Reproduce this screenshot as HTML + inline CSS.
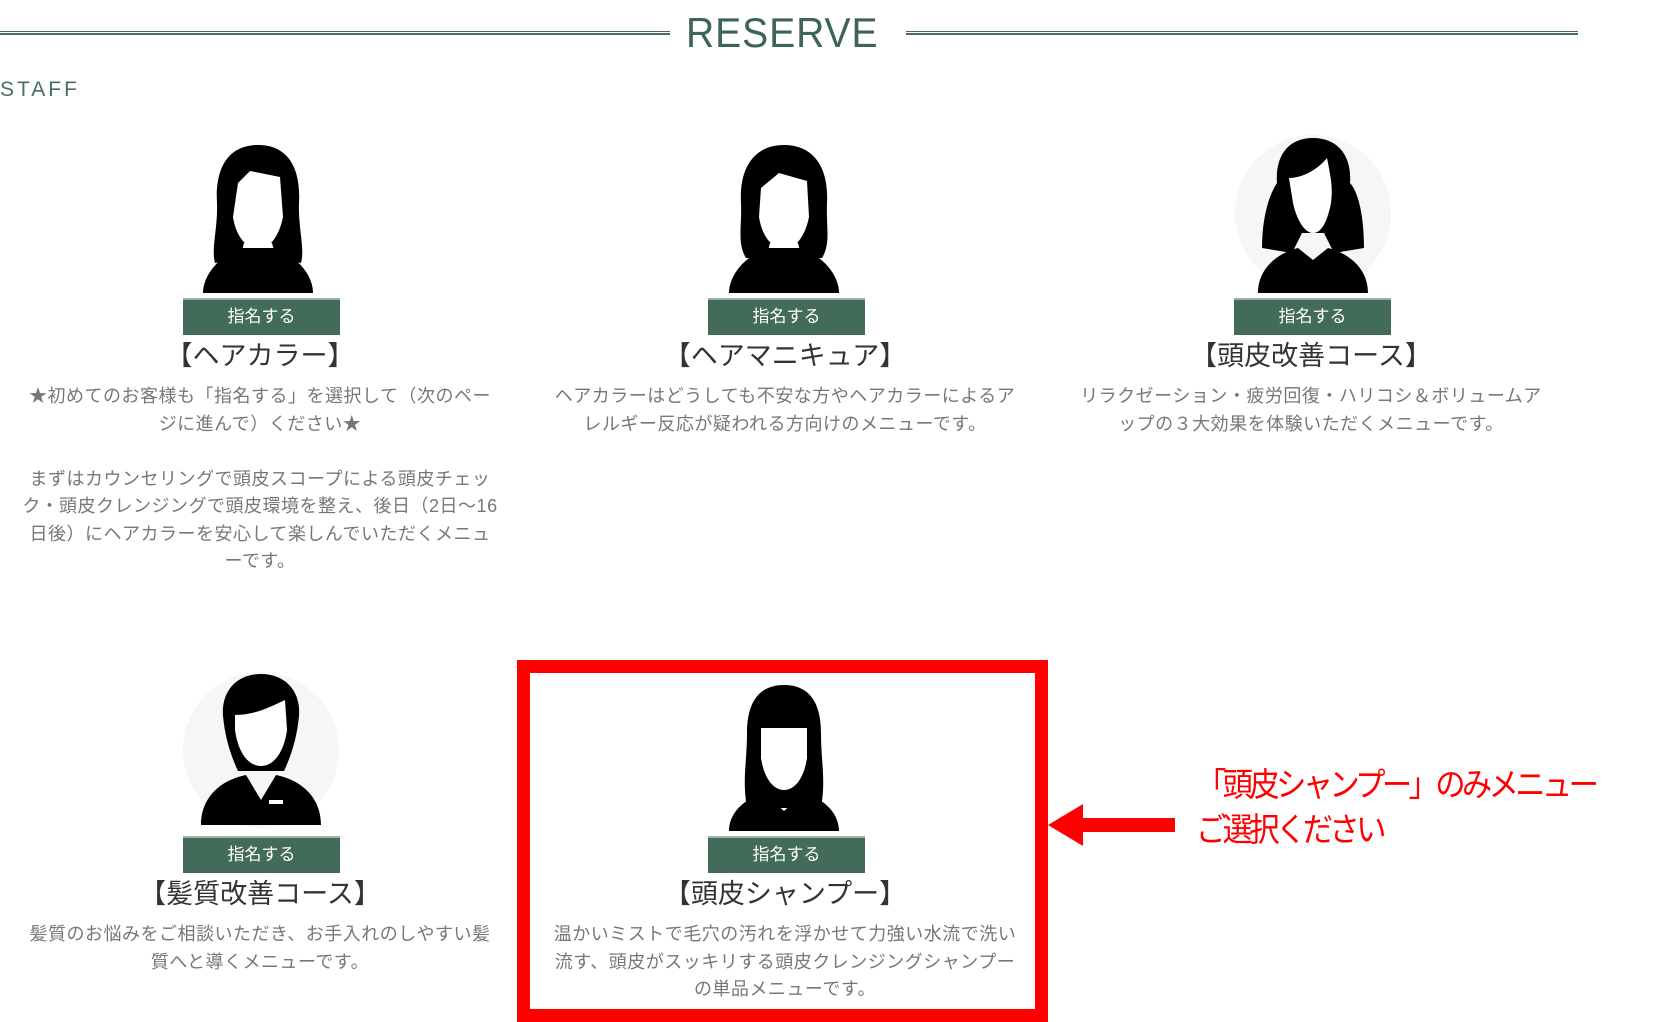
<!DOCTYPE html>
<html><head><meta charset="utf-8"><style>
*{margin:0;padding:0;box-sizing:border-box}
body{width:1671px;height:1020px;background:#fff;position:relative;overflow:hidden;font-family:"Liberation Sans","Noto Sans CJK JP",sans-serif}
.abs{position:absolute}
.line{position:absolute;height:4px;border-top:1px solid #4a6e5c;border-bottom:2px solid #4a6e5c;top:31px}
.btn{position:absolute;width:157px;height:37px;background:#436b59;border-top:2px solid #9bb3a6;color:#fff;font-size:17px;line-height:34px;text-align:center}
.ttl{position:absolute;width:500px;text-align:center;font-size:27px;color:#333;line-height:32px}
.desc{position:absolute;width:500px;text-align:center;font-size:18px;color:#777;line-height:27.5px;letter-spacing:0.5px}
svg.av{position:absolute}
</style></head><body>
<div class="line" style="left:0;width:670px"></div>
<div class="abs" style="left:686px;top:8px;font-size:42px;color:#3e6453;letter-spacing:1px;line-height:50px;transform:scaleX(0.93);transform-origin:left">RESERVE</div>
<div class="line" style="left:906px;width:672px"></div>
<div class="abs" style="left:0;top:78px;font-size:21px;color:#4a6e5c;letter-spacing:3px">STAFF</div>

<svg class="av" style="left:203px;top:143px" width="110" height="150" viewBox="0 0 110 150">
<path d="M55 2C25 2 12 25 14 60c1 25-6 45-2 60l25 -5 4-15h28l4 15 25 5c4-15-3-35-2-60C98 25 85 2 55 2z" fill="#000"/>
<path d="M35 40l12-12 30 6 3 40c-4 20-14 32-25 32s-22-12-25-32z" fill="#fff"/>
<path d="M0 150c0-20 20-40 40-45h30c20 5 40 25 40 45z" fill="#000"/>
</svg>
<svg class="av" style="left:729px;top:143px" width="110" height="150" viewBox="0 0 110 150">
<path d="M55 2C25 2 10 25 12 60c1 25-4 40 5 55l20 0 4-15h28l4 15 20 0c9-15 4-30 5-55C100 25 85 2 55 2z" fill="#000"/>
<path d="M32 45l18-15 28 8 2 36c-4 20-14 32-25 32s-22-12-25-32z" fill="#fff"/>
<path d="M0 150c0-20 20-40 40-45h30c20 5 40 25 40 45z" fill="#000"/>
</svg>
<svg class="av" style="left:1233px;top:133px" width="160" height="160" viewBox="0 0 160 160">
<circle cx="80" cy="80" r="78" fill="#f6f6f6"/>
<path d="M80 5c-25 0-38 18-36 45-10 15-15 40-15 65l30 5 10-20h22l10 20 30-5c0-30-5-55-14-65 2-27-12-45-37-45z" fill="#000"/>
<path d="M56 45c15 0 30-10 38-20 4 20 6 30 4 45-4 20-10 30-18 30s-16-12-20-30z" fill="#fff"/>
<path d="M25 160c0-25 20-40 40-45l15 12 15-12c20 5 40 20 40 45z" fill="#000"/>
</svg>
<svg class="av" style="left:181px;top:670px" width="160" height="160" viewBox="0 0 160 160">
<circle cx="80" cy="80" r="78" fill="#f6f6f6"/>
<path d="M80 4c-25 0-40 18-38 42 2 22 8 40 15 55h46c7-15 13-33 15-55 2-24-13-42-38-42z" fill="#000"/>
<path d="M54 45c20 0 35-8 50-15l2 30c-3 22-13 36-26 36s-23-14-26-36z" fill="#fff"/>
<path d="M20 155c0-28 20-45 45-50l15 25 15-25c25 5 45 22 45 50z" fill="#000"/>
<rect x="88" y="130" width="14" height="4" fill="#fff"/>
</svg>
<svg class="av" style="left:729px;top:683px" width="110" height="148" viewBox="0 0 110 148">
<path d="M55 2C28 2 18 22 18 50c0 30-5 45 0 75h74c5-30 0-45 0-75 0-28-10-48-37-48z" fill="#000"/>
<path d="M32 45h46v30c-3 20-12 32-23 32s-20-12-23-32z" fill="#fff"/>
<path d="M0 148c0-18 15-32 35-38l20 18 20-18c20 6 35 20 35 38z" fill="#000"/>
</svg>

<div class="btn" style="left:183px;top:298px">指名する</div>
<div class="btn" style="left:708px;top:298px">指名する</div>
<div class="btn" style="left:1234px;top:298px">指名する</div>
<div class="btn" style="left:183px;top:836px">指名する</div>
<div class="btn" style="left:708px;top:836px">指名する</div>

<div class="ttl" style="left:10px;top:340px">【ヘアカラー】</div>
<div class="ttl" style="left:535px;top:340px">【ヘアマニキュア】</div>
<div class="ttl" style="left:1061px;top:340px">【頭皮改善コース】</div>
<div class="ttl" style="left:10px;top:878px">【髪質改善コース】</div>
<div class="ttl" style="left:535px;top:878px">【頭皮シャンプー】</div>

<div class="desc" style="left:10px;top:383px">★初めてのお客様も「指名する」を選択して（次のペー<br>ジに進んで）ください★<br><br>まずはカウンセリングで頭皮スコープによる頭皮チェッ<br>ク・頭皮クレンジングで頭皮環境を整え、後日（2日～16<br>日後）にヘアカラーを安心して楽しんでいただくメニュ<br>ーです。</div>
<div class="desc" style="left:535px;top:383px">ヘアカラーはどうしても不安な方やヘアカラーによるア<br>レルギー反応が疑われる方向けのメニューです。</div>
<div class="desc" style="left:1061px;top:383px">リラクゼーション・疲労回復・ハリコシ＆ボリュームア<br>ップの３大効果を体験いただくメニューです。</div>
<div class="desc" style="left:10px;top:921px">髪質のお悩みをご相談いただき、お手入れのしやすい髪<br>質へと導くメニューです。</div>
<div class="desc" style="left:535px;top:921px">温かいミストで毛穴の汚れを浮かせて力強い水流で洗い<br>流す、頭皮がスッキリする頭皮クレンジングシャンプー<br>の単品メニューです。</div>

<div class="abs" style="left:517px;top:660px;width:531px;height:362px;border:13px solid #ff0000"></div>
<svg class="abs" style="left:1048px;top:800px" width="130" height="50" viewBox="0 0 130 50">
<polygon points="0,25 35,4 35,18 127,18 127,32 35,32 35,46" fill="#ff0000"/>
</svg>
<div class="abs" style="left:1196px;top:762px;font-size:33px;color:#ff0000;line-height:45px;letter-spacing:-4px;white-space:nowrap;transform:scaleX(0.92);transform-origin:left">「頭皮シャンプー」のみメニュー<br>ご選択ください</div>
</body></html>
